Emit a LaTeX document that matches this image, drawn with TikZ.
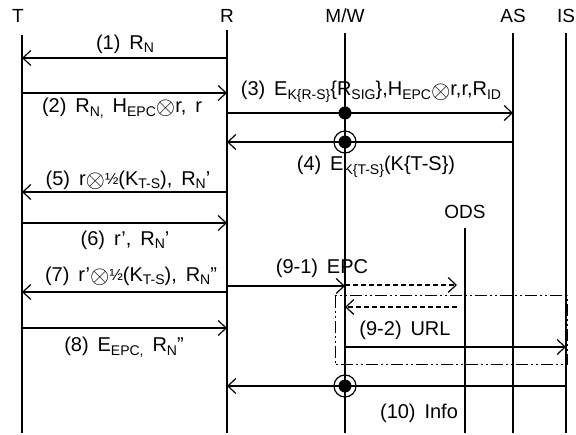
\documentclass[tikz,border=0pt]{standalone}
\usepackage{fontspec}
\setmainfont{Liberation Sans}
\usetikzlibrary{arrows.meta}
\tikzset{
  head/.style={font=\fontsize{19}{21}\selectfont, inner sep=1pt},
  lbl/.style={font=\fontsize{20}{22}\selectfont, inner sep=1pt},
  life/.style={line width=1.2pt},
  msg/.style={line width=1.2pt, -{Straight Barb[length=8pt,width=15pt,line width=1.2pt]}},
  dmsg/.style={msg, dash pattern=on 5pt off 3pt},
  frame/.style={line width=1pt, dash pattern=on 12pt off 3pt on 2pt off 3pt on 2pt off 3pt},
  dot/.style={fill=black},
}
\newcommand{\sub}[1]{\raisebox{-0.35ex}{\fontsize{14}{15}\selectfont #1}}
\newcommand{\ox}{\raisebox{-0.2ex}{\fontsize{25}{25}\selectfont$\otimes$}}
\newcommand{\half}{\raisebox{0.1ex}{\fontsize{16}{16}\selectfont ½}}
\begin{document}
\begin{tikzpicture}[x=1pt,y=-1pt]
\useasboundingbox (0,0) rectangle (576,435);
% heads
\node[head] (T) at (18,16) {T};
\node[head] (R) at (227,16) {R};
\node[head] (MW) at (345,16) {M/W};
\node[head] (AS) at (513,16) {AS};
\node[head] (IS) at (566,16) {IS};
\node[head] (ODS) at (465,212) {ODS};
% lifelines
\coordinate (t) at (22,0);
\draw[life] (t |- 0,35) -- (t |- 0,433);
\draw[life] (R |- 0,30) -- (R |- 0,433);
\draw[life] (MW |- 0,33) -- (MW |- 0,433);
\draw[life] (AS |- 0,33) -- (AS |- 0,433);
\draw[life] (IS |- 0,33) -- (IS |- 0,433);
\draw[life] (ODS |- 0,228) -- (ODS |- 0,433);
% messages
\draw[msg] (R |- 0,58) -- (t |- 0,58);
\node[lbl] (m1) at (125,44) {(1)\, R\sub{N}};
\draw[msg] (t |- 0,93) -- (R |- 0,93);
\node[lbl] (m2) at (122,108) {(2)\, R\sub{N,}\, H\sub{EPC}\ox r,\, r};
\draw[msg] (R |- 0,113) -- (AS |- 0,113);
\node[lbl] (m3) at (371,92) {(3)\, E\sub{K\{R-S\}}\{R\sub{SIG}\},H\sub{EPC}\ox r,r,R\sub{ID}};
\fill[dot] (MW |- 0,113) circle (6.5);
\draw[msg] (AS |- 0,142) -- (R |- 0,142);
\draw[line width=1.2pt] (MW |- 0,142) circle (11);
\fill[dot] (MW |- 0,142) circle (6.5);
\node[lbl] (m4) at (376,167) {(4)\, E\sub{K\{T-S\}}(K\{T-S\})};
\draw[msg] (R |- 0,192) -- (t |- 0,192);
\node[lbl] (m5) at (128,180) {(5)\, r\ox\half(K\sub{T-S}),\, R\sub{N}'};
\draw[msg] (t |- 0,223) -- (R |- 0,223);
\node[lbl] (m6) at (125,240) {(6)\, r',\, R\sub{N}'};
\draw[msg] (R |- 0,292) -- (t |- 0,292);
\node[lbl] (m7) at (131,276) {(7)\, r'\ox\half(K\sub{T-S}),\, R\sub{N}''};
\draw[msg] (R |- 0,286) -- (MW |- 0,286);
\node[lbl] (m91) at (322,268) {(9-1)\, EPC};
\draw[dmsg, shorten >=8pt] (MW |- 0,285) -- (ODS |- 0,285);
\draw[frame] (335,296) rectangle (567,365);
\draw[dmsg, shorten <=8pt] (ODS |- 0,307) -- (MW |- 0,307);
\node[lbl] (m92) at (405,330) {(9-2)\, URL};
\draw[msg] (MW |- 0,347) -- (IS |- 0,347);
\draw[msg] (t |- 0,328) -- (R |- 0,328);
\node[lbl] (m8) at (124,347) {(8)\, E\sub{EPC,}\, R\sub{N}''};
\draw[msg] (IS |- 0,386) -- (R |- 0,386);
\draw[line width=1.2pt] (MW |- 0,386) circle (11);
\fill[dot] (MW |- 0,386) circle (6.5);
\node[lbl] (m10) at (419,413) {(10)\, Info};
\end{tikzpicture}
\end{document}
